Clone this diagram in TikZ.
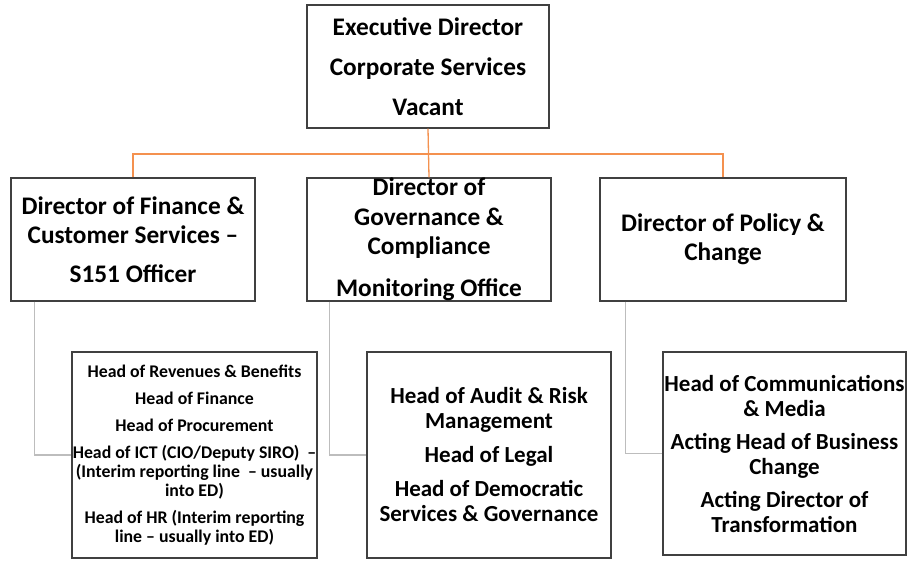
\documentclass[tikz,border=0pt]{standalone}
\usepackage{fontspec}
\setmainfont{Carlito}
\definecolor{boxgrey}{HTML}{404040}
\definecolor{linkorange}{HTML}{F4914F}
\definecolor{linkgrey}{HTML}{BDBDBD}
\begin{document}
\begin{tikzpicture}[x=1pt, y=-1pt,
  post/.style={draw=boxgrey, line width=1.3pt, fill=white, inner sep=0pt, align=center},
  bigtext/.style={font=\bfseries\fontsize{25.3}{29.5}\selectfont},
  midtext/.style={font=\bfseries\fontsize{23}{25}\selectfont},
  smalltext/.style={font=\bfseries\fontsize{17.8}{19}\selectfont},
  orangelink/.style={draw=linkorange, line width=1.3pt},
  greylink/.style={draw=linkgrey, line width=1.3pt}]
\fill[white] (0,0) rectangle (917,560);
\useasboundingbox (0,0) rectangle (917,560);
\node[post, bigtext, minimum width=242pt, minimum height=123pt] (ed) at (428,66.5)
  {Executive Director\\[10.5pt] Corporate Services\\[10.5pt] Vacant};
\node[post, bigtext, minimum width=244pt, minimum height=123pt] (fin) at (133,239.5)
  {Director of Finance \&\\ Customer Services --\\[9pt] S151 Officer};
\node[post, bigtext, minimum width=244pt, minimum height=123pt] (gov) at (429,239.5)
  {Director of\\ Governance \&\\ Compliance\\[12pt] Monitoring Office};
\node[post, bigtext, minimum width=246pt, minimum height=123pt] (pol) at (723,239.5)
  {Director of Policy \&\\ Change};
\node[post, smalltext, minimum width=245pt, minimum height=206pt] (finheads) at (194.5,455)
  {Head of Revenues \& Benefits\\[8pt] Head of Finance\\[8pt] Head of Procurement\\[8pt]
   Head of ICT (CIO/Deputy SIRO) \ --\\ (Interim reporting line \ -- usually\\ into ED)\\[8pt]
   Head of HR (Interim reporting\\ line -- usually into ED)};
\node[post, midtext, minimum width=244pt, minimum height=206pt] (govheads) at (489,455)
  {Head of Audit \& Risk\\ Management\\[9pt] Head of Legal\\[9pt] Head of Democratic\\ Services \& Governance};
\node[post, midtext, minimum width=243pt, minimum height=203pt] (polheads) at (784.5,453.5)
  {Head of Communications\\ \& Media\\[8pt] Acting Head of Business\\ Change\\[8pt] Acting Director of\\ Transformation};
\coordinate (bar) at (428,154);
\draw[orangelink] (ed.south) -- (gov.north);
\draw[orangelink] (fin.north) |- (bar) -| (pol.north);
\draw[greylink] ([xshift=24pt]fin.south west) |- (finheads.west);
\draw[greylink] ([xshift=23pt]gov.south west) |- (govheads.west);
\draw[greylink] ([xshift=26pt]pol.south west) |- (polheads.west);
\end{tikzpicture}
\end{document}
